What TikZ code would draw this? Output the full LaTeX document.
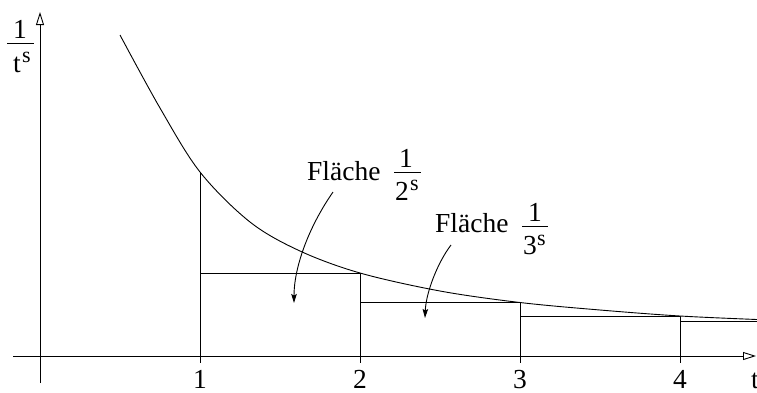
\documentclass[tikz,border=0pt]{standalone}
\usepackage{fontspec}
\setmainfont{Liberation Serif}
\usetikzlibrary{arrows.meta}
\begin{document}
\begin{tikzpicture}[x=1pt,y=-1pt,
  lbl/.style={inner sep=0pt, font=\fontsize{27.5}{32}\selectfont},
  supx/.style={inner sep=0pt, font=\fontsize{22}{26}\selectfont},
  ln/.style={line width=0.9pt, line join=round},
  fbar/.style={line width=0.8pt},
  axisarrow/.style={-{Triangle[open,length=13pt,width=8pt,line width=0.9pt]}},
  ptr/.style={-{Stealth[length=9pt,width=5.5pt,inset=1.5pt]}}]
\useasboundingbox (0,0) rectangle (757,392);

% axes
\coordinate (xs) at (13,356);
\coordinate (xe) at (756,356);
\coordinate (ys) at (40,383);
\coordinate (ye) at (40,12);
\draw[ln, axisarrow] (xs) -- (xe);
\draw[ln, axisarrow] (ys) -- (ye);

% y-axis label 1/t^s
\node[lbl, anchor=base] (ynum) at (20,38) {1};
\draw[fbar] (7,43) -- (34,43);
\node[lbl, anchor=base west] (yden) at (13,72) {t};
\node[supx, anchor=base west] (ysup) at (22,62) {s};

% x tick labels
\node[lbl, anchor=base] (l1) at (200,388) {1};
\node[lbl, anchor=base] (l2) at (360,388) {2};
\node[lbl, anchor=base] (l3) at (520,388) {3};
\node[lbl, anchor=base] (l4) at (680,388) {4};
\node[lbl, anchor=base west] (lt) at (751,388) {t};

% curve
\draw[ln] plot[smooth, tension=0.55] coordinates {(120,35) (160,108) (200,172) (250,222) (300,251) (360,273) (440,291) (520,302.5) (600,310) (680,316) (757,319.5)};

% rectangles / verticals
\draw[ln] (200,172) -- (200,363);
\draw[ln] (200,273) -- (360,273) -- (360,363);
\draw[ln] (360,302) -- (520,302) -- (520,363);
\draw[ln] (520,316) -- (680,316) -- (680,363);
\draw[ln] (680,321) -- (757,321);

% label Flaeche 1/2^s
\node[lbl, anchor=base west] (f1) at (307,180) {Fläche};
\node[lbl, anchor=base] (f1num) at (406,167) {1};
\draw[fbar] (394,172) -- (421,172);
\node[lbl, anchor=base west] (f1den) at (395,200) {2};
\node[supx, anchor=base west] (f1sup) at (410,190) {s};

% label Flaeche 1/3^s
\node[lbl, anchor=base west] (f2) at (435,232) {Fläche};
\node[lbl, anchor=base] (f2num) at (535,221) {1};
\draw[fbar] (522,226) -- (548,226);
\node[lbl, anchor=base west] (f2den) at (523,254) {3};
\node[supx, anchor=base west] (f2sup) at (537,245) {s};

% pointer arrows
\coordinate (a1s) at (333,192);
\coordinate (a1e) at (294,303);
\coordinate (a2s) at (451,245);
\coordinate (a2e) at (425,318);
\draw[ln, ptr] (a1s) .. controls (308,228) and (294,268) .. (a1e);
\draw[ln, ptr] (a2s) .. controls (438,262) and (426,292) .. (a2e);
\end{tikzpicture}
\end{document}
